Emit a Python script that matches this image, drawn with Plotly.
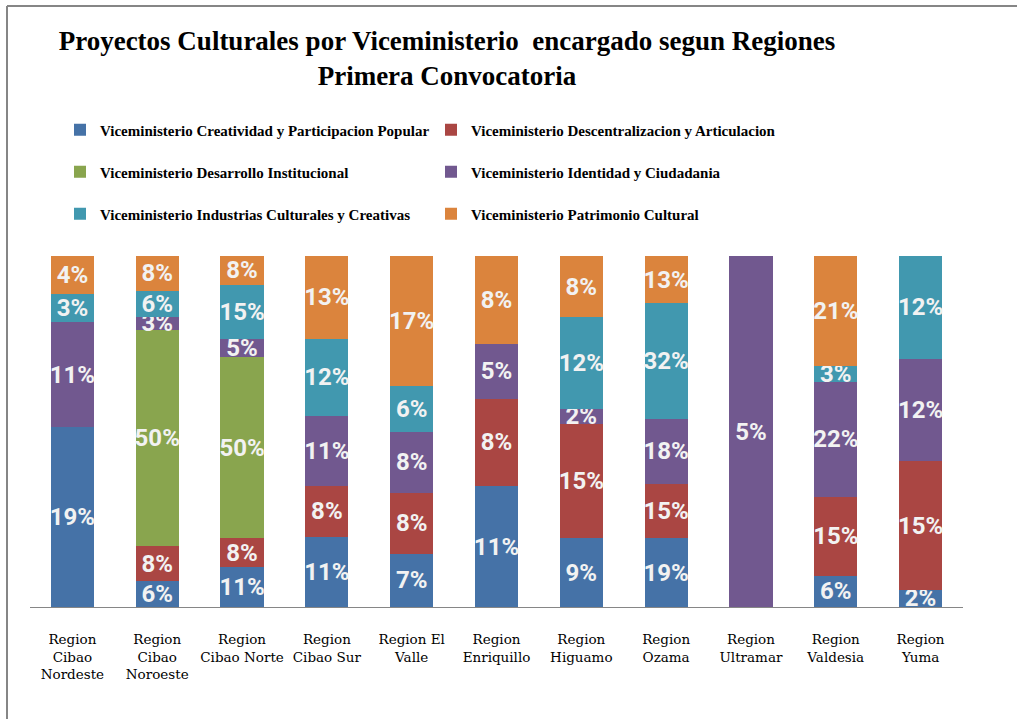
import plotly.graph_objects as go

regions = ["Region Cibao Nordeste", "Region Cibao Noroeste", "Region Cibao Norte",
           "Region Cibao Sur", "Region El Valle", "Region Enriquillo", "Region Higuamo",
           "Region Ozama", "Region Ultramar", "Region Valdesia", "Region Yuma"]
tick_labels = ["Region<br>Cibao<br>Nordeste", "Region<br>Cibao<br>Noroeste", "Region<br>Cibao Norte",
               "Region<br>Cibao Sur", "Region El<br>Valle", "Region<br>Enriquillo", "Region<br>Higuamo",
               "Region<br>Ozama", "Region<br>Ultramar", "Region<br>Valdesia", "Region<br>Yuma"]

series_names = [
    "Viceministerio Creatividad y Participacion Popular",
    "Viceministerio Descentralizacion y Articulacion",
    "Viceministerio Desarrollo Institucional",
    "Viceministerio Identidad y Ciudadania",
    "Viceministerio Industrias Culturales y Creativas",
    "Viceministerio Patrimonio Cultural",
]
creatividad     = [19, 6, 11, 11, 7, 11, 9, 19, 0, 6, 2]
descentralizacion = [0, 8, 8, 8, 8, 8, 15, 15, 0, 15, 15]
desarrollo      = [0, 50, 50, 0, 0, 0, 0, 0, 0, 0, 0]
identidad       = [11, 3, 5, 11, 8, 5, 2, 18, 5, 22, 12]
industrias      = [3, 6, 15, 12, 6, 0, 12, 32, 0, 3, 12]
patrimonio      = [4, 8, 8, 13, 17, 8, 8, 13, 0, 21, 0]

series_values = [creatividad, descentralizacion, desarrollo, identidad, industrias, patrimonio]
colors = ["#4572A7", "#AA4643", "#89A54E", "#71588F", "#4198AF", "#DB843D"]
legend_ids = ["legend", "legend", "legend2", "legend2", "legend3", "legend3"]

fig = go.Figure()
for name, vals, col, lg in zip(series_names, series_values, colors, legend_ids):
    fig.add_trace(go.Bar(
        x=regions, y=vals, name=name, marker=dict(color=col, line=dict(width=0)),
        text=[f"{v}%" if v else "" for v in vals],
        textposition="inside", insidetextanchor="middle", constraintext="none",
        textangle=0, cliponaxis=False,
        textfont=dict(family="Roboto", size=24, color="#f2f2f2", weight="bold"),
        legend=lg,
    ))

# plot area geometry (pixels) used to place decorations
L, R, T, B = 30, 963, 256, 607
W, H = R - L, B - T
def px_x(p):
    return (p - L) / W
def px_y(p):
    return (B - p) / H

legend_common = dict(orientation="h", xanchor="left", yanchor="middle", traceorder="normal",
                     entrywidth=326, entrywidthmode="pixels",
                     font=dict(family="Liberation Serif", size=15, color="#000000", weight="bold"),
                     bgcolor="rgba(0,0,0,0)", itemclick=False, itemdoubleclick=False)

fig.update_layout(
    barmode="stack", barnorm="percent", bargap=0.49,
    width=1017, height=719,
    margin=dict(l=L, r=1017 - R, t=T, b=719 - B),
    paper_bgcolor="white", plot_bgcolor="white",
    title=dict(text="Proyectos Culturales por Viceministerio  encargado segun Regiones<br>Primera Convocatoria",
               x=447 / 1017, xanchor="center", y=1 - 50 / 719, yanchor="middle",
               font=dict(family="Liberation Serif", size=27, color="#000000", weight="bold")),
    legend=dict(x=px_x(60), y=px_y(130), **legend_common),
    legend2=dict(x=px_x(60), y=px_y(172), **legend_common),
    legend3=dict(x=px_x(60), y=px_y(214), **legend_common),
    xaxis=dict(tickmode="array", tickvals=regions, ticktext=tick_labels,
               showline=True, linecolor="#868686", linewidth=1, ticks="",
               ticklabelstandoff=20,
               tickfont=dict(family="DejaVu Serif", size=13.5, color="#000000"),
               showgrid=False, zeroline=False, fixedrange=True),
    yaxis=dict(range=[0, 100], visible=False, showgrid=False, zeroline=False, fixedrange=True),
    showlegend=True,
    shapes=[
        dict(type="line", xref="paper", yref="paper", x0=px_x(7), x1=px_x(1017), y0=px_y(6), y1=px_y(6),
             line=dict(color="#868686", width=2)),
        dict(type="line", xref="paper", yref="paper", x0=px_x(7), x1=px_x(7), y0=px_y(6), y1=px_y(719),
             line=dict(color="#868686", width=2)),
    ],
)

fig.write_html("out.html", config={"displayModeBar": False},
               post_script="document.body.style.margin='0';")
